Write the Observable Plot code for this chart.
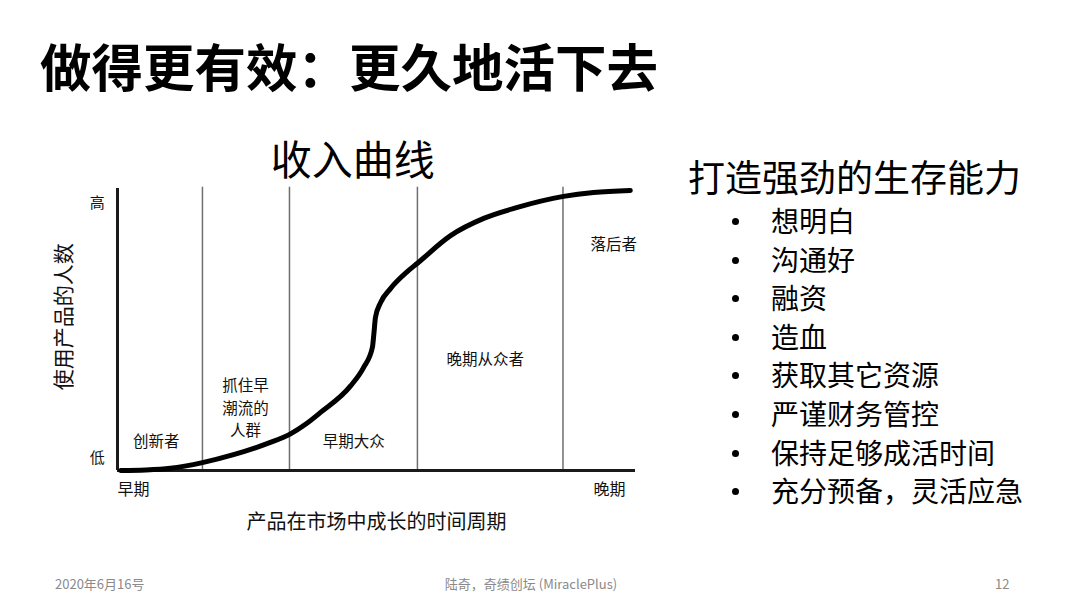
<!DOCTYPE html>
<html>
<head>
<meta charset="utf-8">
<script src="https://cdn.jsdelivr.net/npm/d3@7"></script>
<script src="https://cdn.jsdelivr.net/npm/@observablehq/plot@0.6"></script>
<style>
  html, body { margin: 0; padding: 0; background: #fff; }
  #slide { position: relative; width: 1080px; height: 606px; overflow: hidden; font-family: "Noto Sans CJK SC", "Noto Sans", sans-serif; color: #000; }
  #title { position: absolute; left: 40px; top: 36px; font-size: 51.5px; line-height: 58px; font-weight: 700; white-space: nowrap; }
  #chart { position: absolute; left: 40px; top: 130px; }
  #heading { position: absolute; left: 688px; top: 154px; font-size: 37px; line-height: 45px; white-space: nowrap; }
  #bullets { position: absolute; left: 726px; top: 201px; margin: 0; padding: 0; list-style: none; }
  #bullets li { position: relative; font-size: 28px; line-height: 38.6px; height: 38.6px; padding-left: 45px; white-space: nowrap; }
  #bullets li::before { content: ""; position: absolute; left: 6px; top: 17px; width: 7px; height: 7px; border-radius: 50%; background: #000; }
  .foot { position: absolute; top: 575px; font-size: 13px; line-height: 18px; color: #8a8a8a; white-space: nowrap; }
</style>
</head>
<body>
<div id="slide">
  <div id="title"></div>
  <div id="chart"></div>
  <div id="heading"></div>
  <ul id="bullets"></ul>
  <div class="foot" id="footL" style="left:55px"></div>
  <div class="foot" id="footC" style="left:531px; transform:translateX(-50%)"></div>
  <div class="foot" id="footR" style="left:995px"></div>
</div>
<script>
// ---- data ----
const slideTitle = "做得更有效：更久地活下去";
const chartTitle = "收入曲线";
const heading = "打造强劲的生存能力";
const bulletItems = ["想明白", "沟通好", "融资", "造血", "获取其它资源", "严谨财务管控", "保持足够成活时间", "充分预备，灵活应急"];
const footer = ["2020年6月16号", "陆奇，奇绩创坛 (MiraclePlus)", "12"];

// adoption curve (time 0-100, adopters 0-100)
const curveX = [0.6, 5.4, 10.2, 16.4, 22.4, 29.0, 33.4, 36.3, 39.2, 45.0, 47.5, 49.2, 49.5, 49.8, 50.8, 52.7, 56.0, 57.9, 64.3, 70.7, 77.2, 86.1, 91.9, 99.0];
const curveY = [0.0, 0.2, 0.8, 2.8, 5.6, 9.6, 13.0, 16.4, 20.6, 30.0, 36.5, 43.6, 48.6, 54.3, 59.6, 64.5, 70.6, 73.5, 83.3, 89.4, 93.3, 97.2, 98.6, 99.3];

// segment dividers
const dividers = [16.4, 33.2, 57.9, 86.0];

// segment labels
const segLabels = ["创新者", "抓住早\n潮流的\n人群", "早期大众", "晚期从众者", "落后者"];
const segX = [7.5, 24.7, 45.6, 71.0, 95.8];
const segY = [11.0, 22.7, 11.0, 40.1, 80.9];

// axis end labels
const yEndLabels = ["高", "低"];
const yEndY = [94.7, 4.3];
const xEndLabels = ["早期", "晚期"];
const xEndX = [3.1, 95.0];
const xTitle = "产品在市场中成长的时间周期";
const yTitle = "使用产品的人数";

// ---- build ----
const curve = curveX.map((x, i) => ({x, y: curveY[i]}));
const segs = segLabels.map((t, i) => ({t, x: segX[i], y: segY[i]}));
const yEnds = yEndLabels.map((t, i) => ({t, y: yEndY[i]}));
const xEnds = xEndLabels.map((t, i) => ({t, x: xEndX[i]}));

document.getElementById("title").textContent = slideTitle;
document.getElementById("heading").textContent = heading;
const ul = document.getElementById("bullets");
bulletItems.forEach(b => { const li = document.createElement("li"); li.textContent = b; ul.appendChild(li); });
document.getElementById("footL").textContent = footer[0];
document.getElementById("footC").textContent = footer[1];
document.getElementById("footR").textContent = footer[2];

const font = "Noto Sans CJK SC";
const chart = Plot.plot({
  width: 620,
  height: 420,
  marginLeft: 77,
  marginRight: 25,
  marginTop: 58,
  marginBottom: 80,
  style: {fontFamily: font, background: "transparent", overflow: "visible"},
  x: {domain: [0, 100], axis: null},
  y: {domain: [0, 100], axis: null},
  marks: [
    Plot.ruleX(dividers, {x: d => d, y1: 0, y2: 100.4, stroke: "#6e6e6e", strokeWidth: 1.5}),
    Plot.ruleY([0], {x1: 0, x2: 100, stroke: "#1a1a1a", strokeWidth: 3}),
    Plot.ruleX([0], {y1: 0, y2: 100, stroke: "#1a1a1a", strokeWidth: 3}),
    Plot.line(curve, {x: "x", y: "y", curve: "monotone-x", stroke: "#000", strokeWidth: 5, strokeLinecap: "round"}),
    Plot.text(segs, {x: "x", y: "y", text: "t", fontSize: 15.5, lineHeight: 1.45, fill: "#111"}),
    Plot.text(yEnds, {x: -3.9, y: "y", text: "t", fontSize: 15, fill: "#111"}),
    Plot.text(xEnds, {x: "x", y: -7.0, text: "t", fontSize: 16, fill: "#111"}),
    Plot.text([xTitle], {x: 50, y: -18.4, text: d => d, fontSize: 20, fill: "#111"}),
    Plot.text([yTitle], {x: -10.2, y: 54.5, text: d => d, fontSize: 21, rotate: -90, fill: "#111"}),
    Plot.text([chartTitle], {x: 45.4, y: 109.5, text: d => d, fontSize: 41, fill: "#000"})
  ]
});
document.getElementById("chart").appendChild(chart);
</script>
</body>
</html>
